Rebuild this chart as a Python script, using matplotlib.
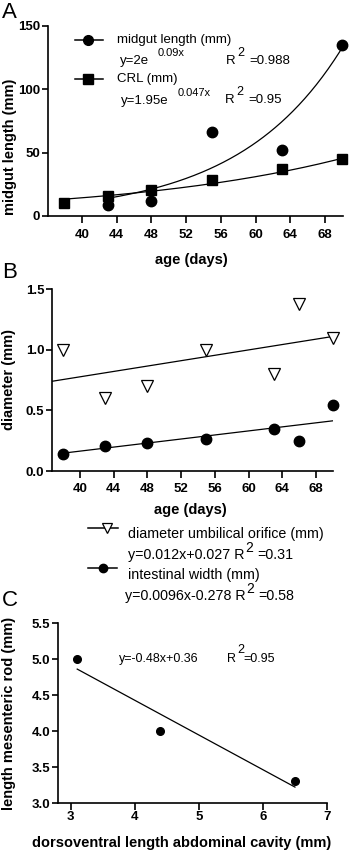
import numpy as np
import matplotlib
matplotlib.use("Agg")
import matplotlib.pyplot as plt

plt.rcParams['font.family'] = ['Liberation Sans', 'DejaVu Sans']

# ---------------- data ----------------
# Panel A
age_midgut = [43, 48, 55, 63, 70]
midgut_len = [9, 12, 66, 52, 135]
age_crl = [38, 43, 48, 55, 63, 70]
crl_len = [10, 15.5, 20.5, 28.5, 37, 45]
midgut_fit_a, midgut_fit_b = 0.388, 0.0834   # exponential fit as drawn
midgut_fit_range = [43, 70]
crl_fit_a, crl_fit_b = 3.08, 0.0385
crl_fit_range = [38, 70]
a_xticks = [40, 44, 48, 52, 56, 60, 64, 68]
a_yticks = [0, 50, 100, 150]

# Panel B
age_b = [38, 43, 48, 55, 63, 66, 70]
umbilical = [1.0, 0.6, 0.7, 1.0, 0.8, 1.38, 1.1]
intestinal = [0.14, 0.21, 0.234, 0.264, 0.35, 0.25, 0.548]
umb_fit_slope, umb_fit_icpt = 0.0111, 0.332
int_fit_slope, int_fit_icpt = 0.00834, -0.170
b_xticks = [40, 44, 48, 52, 56, 60, 64, 68]
b_yticks = [0.0, 0.5, 1.0, 1.5]

# Panel C
dorsoventral = [3.1, 4.4, 6.5]
mesenteric = [5.0, 4.0, 3.3]
c_fit_x = [3.1, 6.5]
c_fit_slope, c_fit_icpt = -0.482, 6.354
c_xticks = [3, 4, 5, 6, 7]
c_yticks = [3.0, 3.5, 4.0, 4.5, 5.0, 5.5]

# ---------------- figure ----------------
W, H = 358, 852
fig = plt.figure(figsize=(W / 100, H / 100), dpi=100)
renderer = fig.canvas.get_renderer()


def ax_px(left, top, right, bottom):
    return fig.add_axes([left / W, 1 - bottom / H, (right - left) / W, (bottom - top) / H])


def ftext(x, y, s, **kw):
    kw.setdefault('va', 'center')
    kw.setdefault('ha', 'left')
    return fig.text(x / W, 1 - y / H, s, **kw)


def right_px(t):
    return t.get_window_extent(renderer).x1


def eq_with_sup(x, y, base, sup, rest, size, supsize, rise=8, gap=1, rest_gap=4):
    t = ftext(x, y, base, fontsize=size)
    xs = right_px(t) + gap
    s = ftext(xs, y - rise, sup, fontsize=supsize)
    if rest:
        ftext(right_px(s) + rest_gap, y, rest, fontsize=size)


def style(ax, xpad, xlen):
    for sp in ['top', 'right']:
        ax.spines[sp].set_visible(False)
    for sp in ['left', 'bottom']:
        ax.spines[sp].set_linewidth(1.2)
    ax.tick_params(axis='x', direction='out', length=xlen, width=1.2, labelsize=9.5, pad=xpad)
    ax.tick_params(axis='y', direction='out', length=4, width=1.2, labelsize=9.5, pad=1.5)
    for lab in ax.get_xticklabels() + ax.get_yticklabels():
        lab.set_fontweight('bold')


LW = 0.9
MS_CIRC = 7.5
LBL = dict(fontsize=10.5, fontweight='bold')
TXT = 9.5
TXTB = 10.3
TXTC = 9
SUP = 8

# ---------------- Panel A ----------------
axA = ax_px(48, 26, 343, 216)
axA.set_xlim(36.1, 70.07)
axA.set_ylim(0, 150)
xa = np.linspace(*midgut_fit_range, 200)
axA.plot(xa, midgut_fit_a * np.exp(midgut_fit_b * xa), color='black', lw=LW)
xc = np.linspace(*crl_fit_range, 200)
axA.plot(xc, crl_fit_a * np.exp(crl_fit_b * xc), color='black', lw=LW)
axA.plot(age_midgut, midgut_len, 'o', color='black', ms=MS_CIRC, clip_on=False)
axA.plot(age_crl, crl_len, 's', color='black', ms=7, clip_on=False)
axA.set_xticks(a_xticks)
axA.set_yticks(a_yticks)
style(axA, xpad=4, xlen=5)
ftext(191, 260, 'age (days)', ha='center', **LBL)
ftext(10, 147, 'midgut length (mm)', ha='center', rotation=90, **LBL)
ftext(2, 12, 'A', fontsize=16)

# overlay axes for legend glyphs
la = fig.add_axes([0, 0, 1, 1], facecolor='none')
la.set_xlim(0, W)
la.set_ylim(H, 0)
la.axis('off')

la.plot([75, 103], [40, 40], color='black', lw=1.1)
la.plot([88], [40], 'o', color='black', ms=7)
la.plot([75, 103], [79, 79], color='black', lw=1.1)
la.plot([88], [79], 's', color='black', ms=6.5)
ftext(117, 40, 'midgut length (mm)', fontsize=TXT)
ftext(120, 61, 'y=2e', fontsize=TXT)
ftext(158, 53, '0.09x', fontsize=SUP)
ftext(226, 61, 'R', fontsize=TXT)
ftext(237, 53, '2', fontsize=SUP + 1)
ftext(249, 61, '=0.988', fontsize=TXT)
ftext(117, 79, 'CRL (mm)', fontsize=TXT)
ftext(121, 101, 'y=1.95e', fontsize=TXT)
ftext(178, 93, '0.047x', fontsize=SUP)
ftext(225, 100, 'R', fontsize=TXT)
ftext(236, 92, '2', fontsize=SUP + 1)
ftext(248, 100, '=0.95', fontsize=TXT)

# ---------------- Panel B ----------------
axB = ax_px(52, 289, 333, 471)
axB.set_xlim(36.7, 70.0)
axB.set_ylim(0, 1.5)
xb = np.array(axB.get_xlim())
axB.plot(xb, umb_fit_slope * xb + umb_fit_icpt, color='black', lw=LW)
xb2 = np.array([age_b[0], age_b[-1]])
axB.plot(xb2, int_fit_slope * xb2 + int_fit_icpt, color='black', lw=LW)
axB.plot(age_b, umbilical, 'v', mfc='white', mec='black', mew=0.9, ms=9, clip_on=False)
axB.plot(age_b, intestinal, 'o', color='black', ms=MS_CIRC, clip_on=False)
axB.set_xticks(b_xticks)
axB.set_yticks(b_yticks)
axB.set_yticklabels(['0.0', '0.5', '1.0', '1.5'])
style(axB, xpad=3.5, xlen=5)
ftext(190, 510, 'age (days)', ha='center', **LBL)
ftext(9, 380, 'diameter (mm)', ha='center', rotation=90, **LBL)
ftext(2, 273, 'B', fontsize=16)

# legend B
la.plot([88, 118], [528, 528], color='black', lw=1.1)
la.plot([107], [528], 'v', mfc='white', mec='black', mew=0.9, ms=7)
la.plot([88, 117], [568, 568], color='black', lw=1.1)
la.plot([103], [568], 'o', color='black', ms=6)
ftext(128, 534, 'diameter umbilical orifice (mm)', fontsize=TXTB)
eq_with_sup(128, 555, 'y=0.012x+0.027 R', '2', '=0.31', TXTB, SUP + 2, rise=7)
ftext(128, 575, 'intestinal width (mm)', fontsize=TXTB)
eq_with_sup(125, 596, 'y=0.0096x-0.278 R', '2', '=0.58', TXTB, SUP + 2, rise=7)

# ---------------- Panel C ----------------
axC = ax_px(58, 623, 327, 803)
axC.set_xlim(2.8, 7.0)
axC.set_ylim(3.0, 5.5)
xcc = np.array(c_fit_x)
axC.plot(xcc, c_fit_slope * xcc + c_fit_icpt, color='black', lw=LW)
axC.plot(dorsoventral, mesenteric, 'o', color='black', ms=5.5, clip_on=False)
axC.set_xticks(c_xticks)
axC.set_yticks(c_yticks)
style(axC, xpad=1, xlen=5)
ftext(182, 843, 'dorsoventral length abdominal cavity (mm)', ha='center', **LBL)
ftext(9, 713, 'length mesenteric rod (mm)', ha='center', rotation=90, **LBL)
ftext(2, 600, 'C', fontsize=16)
ftext(119, 659, 'y=-0.48x+0.36', fontsize=TXTC)
ftext(227, 659, 'R', fontsize=TXTC)
ftext(237, 650, '2', fontsize=SUP + 1)
ftext(243, 659, '=0.95', fontsize=TXTC)

fig.savefig('out.png', dpi=100)
